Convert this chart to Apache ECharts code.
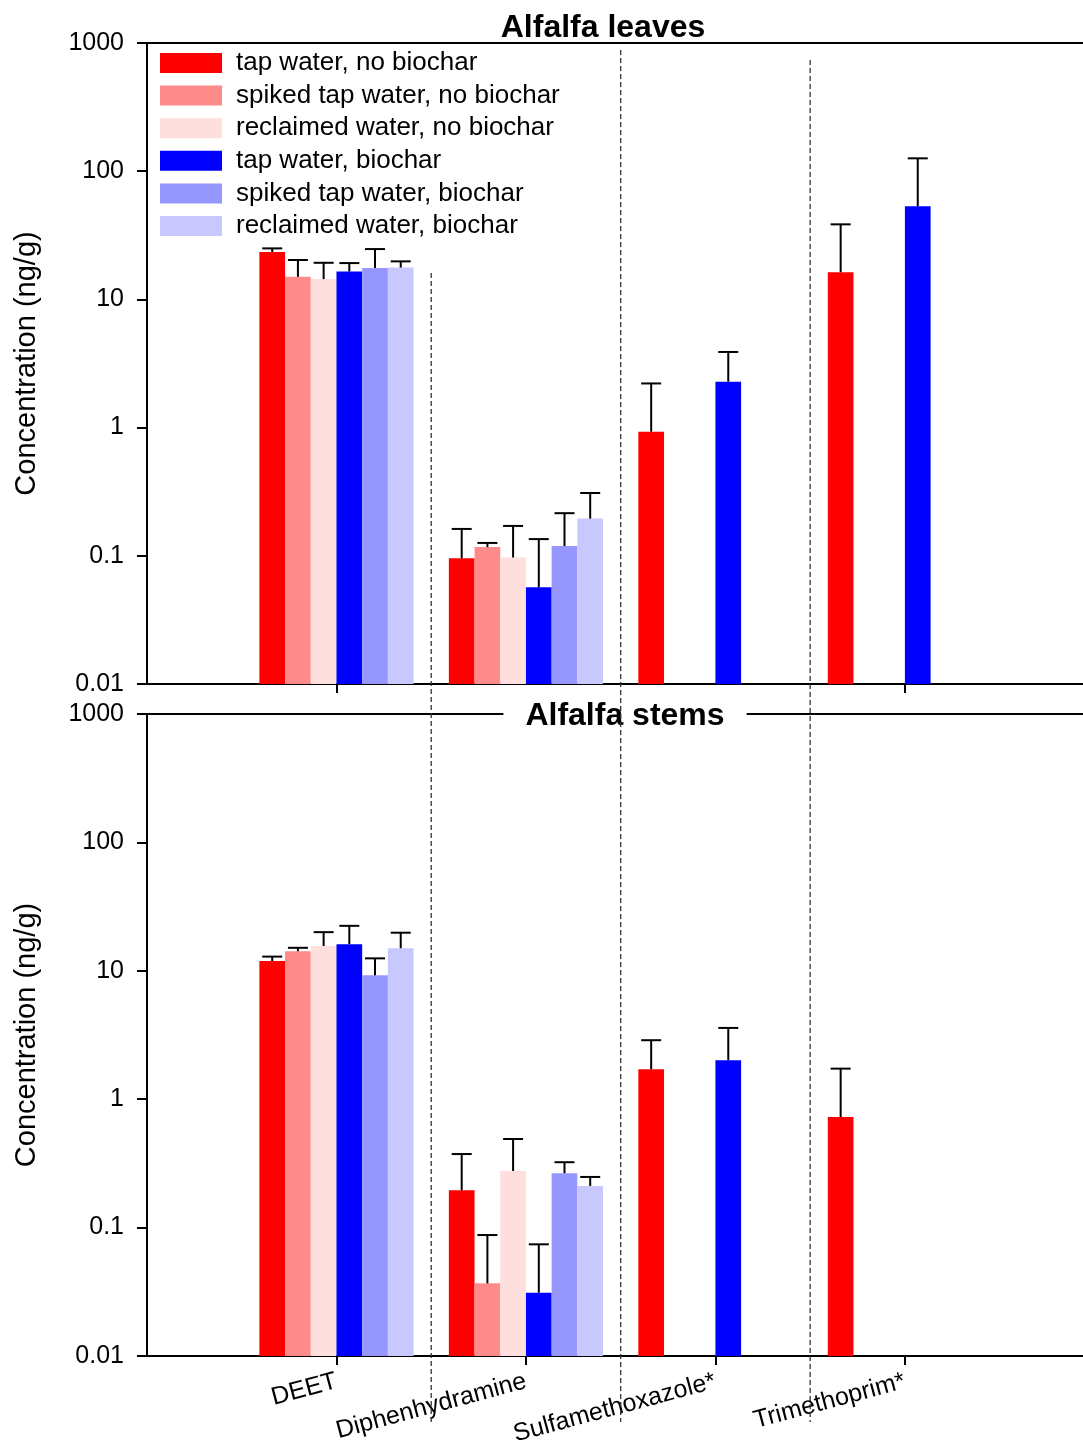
<!DOCTYPE html>
<html>
<head>
<meta charset="utf-8">
<script src="https://cdn.jsdelivr.net/npm/echarts@6/dist/echarts.min.js"></script>
<style>html,body{margin:0;padding:0;background:#fff}#c{width:1083px;height:1442px}</style>
</head>
<body>
<div id="c"></div>
<script>
// ---------- data ----------
const CATEGORIES = ['DEET', 'Diphenhydramine', 'Sulfamethoxazole*', 'Trimethoprim*'];
const CAT_POS = [1, 2, 3, 4];
const SEPARATORS = [1.5, 2.5, 3.5];
const SERIES_NAMES = [
  'tap water, no biochar', 'spiked tap water, no biochar', 'reclaimed water, no biochar',
  'tap water, biochar', 'spiked tap water, biochar', 'reclaimed water, biochar'
];
const Y_TICK_VALUES = [0.01, 0.1, 1, 10, 100, 1000];
const Y_TICK_LABELS = ['0.01', '0.1', '1', '10', '100', '1000'];
const PANEL_TITLES = ['Alfalfa leaves', 'Alfalfa stems'];
const Y_NAME = 'Concentration (ng/g)';

// Leaves: means and upper ends of error bars (null = no bar)
const LEAVES_TAP_NO       = [23.4, 0.0955, 0.929, 16.3];
const LEAVES_SPIKED_NO    = [15.0, 0.117, null, null];
const LEAVES_RECL_NO      = [14.4, 0.097, null, null];
const LEAVES_TAP_BIO      = [16.5, 0.0568, 2.28, 53.2];
const LEAVES_SPIKED_BIO   = [17.6, 0.119, null, null];
const LEAVES_RECL_BIO     = [17.7, 0.195, null, null];
const LEAVES_TAP_NO_ERR     = [25.0, 0.162, 2.21, 38.5];
const LEAVES_SPIKED_NO_ERR  = [20.3, 0.126, null, null];
const LEAVES_RECL_NO_ERR    = [19.3, 0.171, null, null];
const LEAVES_TAP_BIO_ERR    = [19.2, 0.135, 3.89, 126];
const LEAVES_SPIKED_BIO_ERR = [24.7, 0.215, null, null];
const LEAVES_RECL_BIO_ERR   = [19.8, 0.309, null, null];

// Stems
const STEMS_TAP_NO       = [11.9, 0.195, 1.71, 0.726];
const STEMS_SPIKED_NO    = [14.2, 0.0368, null, null];
const STEMS_RECL_NO      = [15.6, 0.276, null, null];
const STEMS_TAP_BIO      = [16.1, 0.0311, 2.01, null];
const STEMS_SPIKED_BIO   = [9.22, 0.265, null, null];
const STEMS_RECL_BIO     = [15.0, 0.211, null, null];
const STEMS_TAP_NO_ERR     = [12.9, 0.374, 2.88, 1.73];
const STEMS_SPIKED_NO_ERR  = [15.1, 0.0875, null, null];
const STEMS_RECL_NO_ERR    = [20.0, 0.490, null, null];
const STEMS_TAP_BIO_ERR    = [22.4, 0.0741, 3.59, null];
const STEMS_SPIKED_BIO_ERR = [12.5, 0.323, null, null];
const STEMS_RECL_BIO_ERR   = [19.8, 0.248, null, null];

const LEAVES_MEANS = [LEAVES_TAP_NO, LEAVES_SPIKED_NO, LEAVES_RECL_NO, LEAVES_TAP_BIO, LEAVES_SPIKED_BIO, LEAVES_RECL_BIO];
const LEAVES_ERRS  = [LEAVES_TAP_NO_ERR, LEAVES_SPIKED_NO_ERR, LEAVES_RECL_NO_ERR, LEAVES_TAP_BIO_ERR, LEAVES_SPIKED_BIO_ERR, LEAVES_RECL_BIO_ERR];
const STEMS_MEANS  = [STEMS_TAP_NO, STEMS_SPIKED_NO, STEMS_RECL_NO, STEMS_TAP_BIO, STEMS_SPIKED_BIO, STEMS_RECL_BIO];
const STEMS_ERRS   = [STEMS_TAP_NO_ERR, STEMS_SPIKED_NO_ERR, STEMS_RECL_NO_ERR, STEMS_TAP_BIO_ERR, STEMS_SPIKED_BIO_ERR, STEMS_RECL_BIO_ERR];

// ---------- style ----------
const COLORS = ['#FF0000', '#FF8A8A', '#FFDEDE', '#0000FF', '#9696FF', '#C8C8FF'];
const FONT = '"Liberation Sans", Arial, Helvetica, sans-serif';
const BAR_W = 25.7;
const CAP_W = 20;
const X_MAX = 4.94;

const chart = echarts.init(document.getElementById('c'), null, {renderer: 'canvas'});

function yLabel(v) {
  const i = Y_TICK_VALUES.findIndex(t => Math.abs(Math.log10(t) - Math.log10(v)) < 1e-6);
  return i >= 0 ? Y_TICK_LABELS[i] : '';
}

function errRender(params, api) {
  const x = api.value(0), s = api.value(1), mean = api.value(2), top = api.value(3);
  const c0 = api.coord([x, mean]);
  const c1 = api.coord([x, top]);
  const cx = c0[0] + (s - 2.5) * BAR_W;
  const st = {stroke: '#000', lineWidth: 2};
  return {type: 'group', children: [
    {type: 'line', shape: {x1: cx, y1: c0[1], x2: cx, y2: c1[1]}, style: st},
    {type: 'line', shape: {x1: cx - CAP_W / 2, y1: c1[1], x2: cx + CAP_W / 2, y2: c1[1]}, style: st}
  ]};
}

function barSeries(means, xIdx, yIdx) {
  return means.map((arr, s) => ({
    name: SERIES_NAMES[s],
    type: 'bar',
    xAxisIndex: xIdx, yAxisIndex: yIdx,
    barWidth: BAR_W, barGap: '0%',
    itemStyle: {color: COLORS[s]},
    data: arr.map((v, i) => v == null ? null : [CAT_POS[i], v]).filter(d => d),
    animation: false
  }));
}
function errSeries(means, errs, xIdx, yIdx) {
  const data = [];
  means.forEach((arr, s) => arr.forEach((v, i) => {
    if (v != null && errs[s][i] != null) data.push([CAT_POS[i], s, v, errs[s][i]]);
  }));
  return {
    type: 'custom', name: 'err', xAxisIndex: xIdx, yAxisIndex: yIdx, z: 5,
    renderItem: errRender, encode: {x: 0, y: [2, 3]}, data, animation: false, silent: true
  };
}

const lineSt = {show: true, onZero: false, lineStyle: {color: '#000', width: 2}};

function xAxisBottom(grid, showLabels, tickVals) {
  return {
    type: 'value', gridIndex: grid, position: 'bottom', min: 0, max: X_MAX,
    axisLine: lineSt,
    axisTick: {show: true, inside: false, length: 9, customValues: tickVals, lineStyle: {color: '#000', width: 2}},
    axisLabel: showLabels ? {
      show: true, customValues: CAT_POS, rotate: 15, margin: 25,
      fontFamily: FONT, fontSize: 25, color: '#000',
      formatter: v => CATEGORIES[CAT_POS.indexOf(Math.round(v))] || ''
    } : {show: false},
    splitLine: {show: false}
  };
}
function xAxisTop(grid) {
  return {
    type: 'value', gridIndex: grid, position: 'top', min: 0, max: X_MAX,
    axisLine: lineSt, axisTick: {show: false}, axisLabel: {show: false}, splitLine: {show: false}
  };
}
function yAxis(grid) {
  return {
    type: 'log', logBase: 10, gridIndex: grid, min: 0.01, max: 1000, startValue: 0.01,
    axisLine: lineSt,
    axisTick: {show: true, inside: false, length: 10, lineStyle: {color: '#000', width: 2}},
    axisLabel: {show: true, margin: 23, fontFamily: FONT, fontSize: 25, color: '#000', formatter: yLabel},
    splitLine: {show: false}, minorTick: {show: false},
    name: Y_NAME, nameLocation: 'middle', nameGap: 106,
    nameTextStyle: {fontFamily: FONT, fontSize: 29, color: '#000'}
  };
}

const option = {
  backgroundColor: '#fff',
  animation: false,
  textStyle: {fontFamily: FONT},
  grid: [
    {left: 147, right: 0, top: 43, height: 641, containLabel: false, outerBoundsMode: 'none'},
    {left: 147, right: 0, top: 714, height: 642, containLabel: false, outerBoundsMode: 'none'}
  ],
  legend: {
    data: SERIES_NAMES, orient: 'vertical', left: 160, top: 50, padding: 0,
    icon: 'rect', itemWidth: 62, itemHeight: 20, itemGap: 6.6,
    textStyle: {fontFamily: FONT, fontSize: 26, color: '#000', lineHeight: 26, padding: [0, 0, 0, 9]}
  },
  xAxis: [xAxisBottom(0, false, [1, 4]), xAxisTop(0), xAxisBottom(1, true, CAT_POS), xAxisTop(1)],
  yAxis: [yAxis(0), yAxis(1)],
  series: [
    ...barSeries(LEAVES_MEANS, 0, 0),
    errSeries(LEAVES_MEANS, LEAVES_ERRS, 0, 0),
    ...barSeries(STEMS_MEANS, 2, 1),
    errSeries(STEMS_MEANS, STEMS_ERRS, 2, 1)
  ]
};
chart.setOption(option);

// panel titles and dashed separators (positions from the library's axis scale)
const DASH_Y = [[273, 1422], [50, 1422], [60, 1422]];
const sepX = SEPARATORS.map(v => chart.convertToPixel({xAxisIndex: 0}, v));
chart.setOption({
  graphic: [
    {type: 'text', z: 100, x: 603, y: 28, style: {
      text: PANEL_TITLES[0], font: 'bold 32px ' + FONT, fill: '#000', align: 'center', verticalAlign: 'middle'}},
    {type: 'text', z: 100, x: 625, y: 716, style: {
      text: PANEL_TITLES[1], font: 'bold 32px ' + FONT, fill: '#000', align: 'center', verticalAlign: 'middle',
      backgroundColor: '#fff', padding: [2, 22, 2, 22]}},
    ...sepX.map((x, i) => ({
      type: 'line', z: 110, silent: true,
      shape: {x1: x, y1: DASH_Y[i][0], x2: x, y2: DASH_Y[i][1]},
      style: {stroke: '#333', lineWidth: 1.3, lineDash: [5, 3]}
    }))
  ]
});
</script>
</body>
</html>
